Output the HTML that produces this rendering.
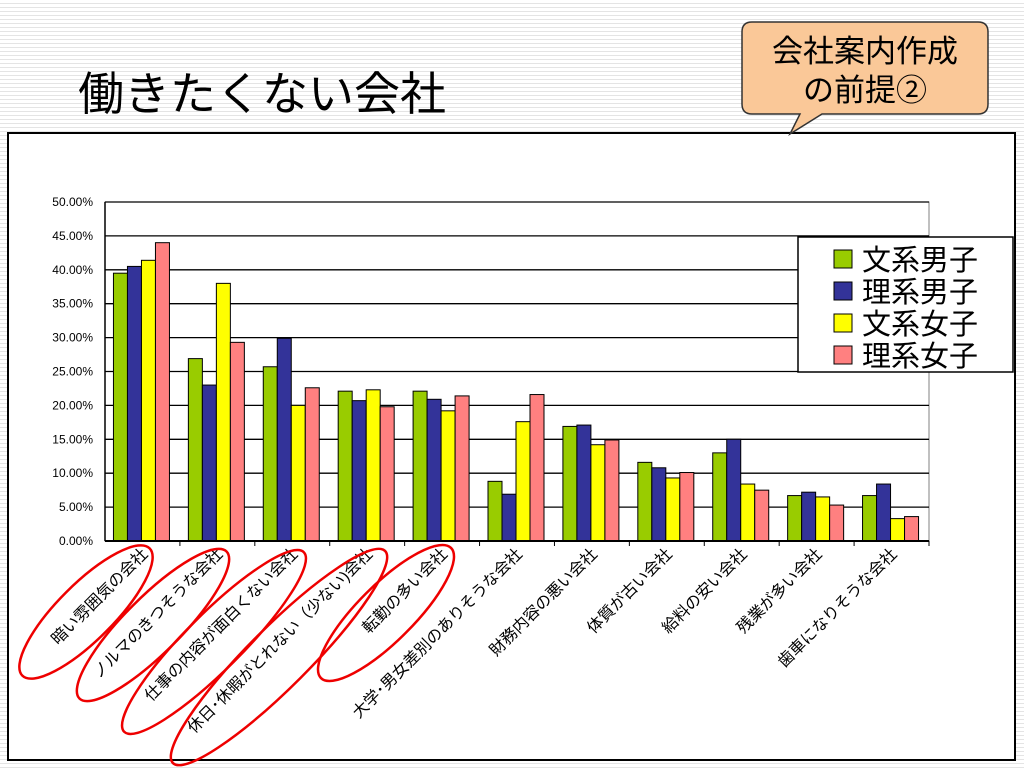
<!DOCTYPE html>
<html><head><meta charset="utf-8">
<style>
body{margin:0;width:1024px;height:768px;overflow:hidden;background:repeating-linear-gradient(#fff 0 3px,#e4e4e4 3px 4px);font-family:"Liberation Sans","Noto Sans CJK JP",sans-serif;}
svg{position:absolute;left:0;top:0}
</style></head><body>
<svg width="1024" height="768">
<text x="78" y="110" font-size="46" fill="#000">働きたくない会社</text>
<rect x="8" y="133" width="1007" height="627" fill="#fff" stroke="#000" stroke-width="2"/>
<g>
<path d="M752,22 H978 Q988,22 988,32 V104 Q988,114 978,114 H822 L790,134 L800,114 H752 Q742,114 742,104 V32 Q742,22 752,22 Z" fill="#fac898" stroke="#333" stroke-width="1.5"/>
<text x="865" y="62" font-size="31" text-anchor="middle">会社案内作成</text>
<text x="865" y="101" font-size="31" text-anchor="middle">の前提②</text>
</g>
<g id="chart"></g>
<g fill="none" stroke="#e00" stroke-width="2.5">
<ellipse cx="86" cy="612" rx="90" ry="28" transform="rotate(-45 86 612)"/>
<ellipse cx="153" cy="625" rx="104" ry="28" transform="rotate(-45 153 625)"/>
<ellipse cx="214" cy="642" rx="127" ry="28" transform="rotate(-45 214 642)"/>
<ellipse cx="279" cy="657" rx="150" ry="30" transform="rotate(-45 279 657)"/>
<ellipse cx="386" cy="613" rx="92" ry="28" transform="rotate(-45 386 613)"/>
</g>
</svg>
<script>
const categories=["暗い雰囲気の会社","ノルマのきつそうな会社","仕事の内容が面白くない会社","休日･休暇がとれない（少ない)会社","転勤の多い会社","大学･男女差別のありそうな会社","財務内容の悪い会社","体質が古い会社","給料の安い会社","残業が多い会社","歯車になりそうな会社"];
const seriesNames=["文系男子","理系男子","文系女子","理系女子"];
const bunM=[39.5,26.9,25.7,22.1,22.1,8.8,16.9,11.6,13.0,6.7,6.7];
const riM=[40.5,23.0,29.9,20.7,20.9,6.9,17.1,10.8,15.0,7.2,8.4];
const bunF=[41.4,38.0,20.0,22.3,19.2,17.6,14.2,9.3,8.4,6.5,3.3];
const riF=[44.0,29.3,22.6,19.8,21.4,21.6,14.9,10.1,7.5,5.3,3.6];
const ticks=[0,5,10,15,20,25,30,35,40,45,50];
const tickLabels=["0.00%","5.00%","10.00%","15.00%","20.00%","25.00%","30.00%","35.00%","40.00%","45.00%","50.00%"];
const series=[bunM,riM,bunF,riF];
const colors=["#99cc00","#333399","#ffff00","#ff8080"];
const NS="http://www.w3.org/2000/svg";
const g=document.getElementById('chart');
const L=105,R=929,T=202,B=541;
const y=v=>B-(v/50)*(B-T);
const gw=(R-L)/categories.length;
const x=i=>L+gw*i;
function mk(t,a){const e=document.createElementNS(NS,t);for(const k in a)e.setAttribute(k,a[k]);g.appendChild(e);return e;}
const pa=mk('rect',{x:L,y:T,width:R-L,height:B-T,fill:'#fff',stroke:'#808080'});


ticks.forEach((t,i)=>{
 const ln=mk('line',{x1:L,x2:R,y1:y(t),y2:y(t),stroke:'#000','stroke-width':1.3});
 
 
 const tx=mk('text',{x:L-12,y:y(t)+4,'font-size':12,'text-anchor':'end'});
 tx.textContent=tickLabels[i];
 
 
});
const bw=14;
categories.forEach((c,i)=>{
 const cx=x(i)+gw/2;
 series.forEach((s,j)=>{
  const bx=cx-2*bw+j*bw-1;
  const r=mk('rect',{x:bx,y:y(s[i]),width:bw,height:B-y(s[i]),fill:colors[j],stroke:'#000','stroke-width':1});
  
  
 });
 const tk=mk('line',{x1:x(i+1),x2:x(i+1),y1:B,y2:B+5,stroke:'#000'});
 
 
 const lx=cx+6,ly=B+14;
 const t=mk('text',{x:lx,y:ly,'font-size':16,'text-anchor':'end',transform:`rotate(-45 ${lx} ${ly})`});
 t.textContent=c;
 
 
});
const ax=mk('line',{x1:L,x2:R,y1:B,y2:B,stroke:'#000','stroke-width':2});


const ay=mk('line',{x1:L,x2:L,y1:T,y2:B,stroke:'#000','stroke-width':1.5});


const lg=mk('rect',{x:798,y:237,width:215,height:135,fill:'#fff',stroke:'#000','stroke-width':1.5});


seriesNames.forEach((n,j)=>{
 const yy=262+j*32;
 const sw=mk('rect',{x:834,y:yy-12,width:18,height:18,fill:colors[j],stroke:'#000'});
 
 
 const t=mk('text',{x:862,y:yy+8,'font-size':29});
 t.textContent=n;
 
 
});
</script>
</body></html>
